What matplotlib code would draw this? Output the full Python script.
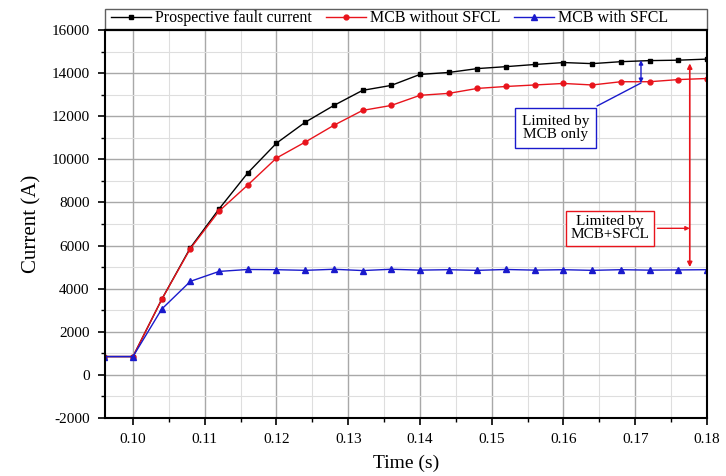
import matplotlib.pyplot as plt
from matplotlib.patches import Rectangle
from matplotlib.ticker import MultipleLocator, FormatStrFormatter

plt.rcParams['font.family'] = ['Liberation Serif', 'DejaVu Serif']
plt.rcParams['axes.unicode_minus'] = False

# time axis (s), one marker every 4 ms
t = [0.096, 0.100, 0.104, 0.108, 0.112, 0.116, 0.120, 0.124, 0.128, 0.132,
     0.136, 0.140, 0.144, 0.148, 0.152, 0.156, 0.160, 0.164, 0.168, 0.172,
     0.176, 0.180]

prospective = [850, 850, 3500, 5900, 7700, 9370, 10750, 11720, 12500, 13200,
               13430, 13940, 14030, 14210, 14300, 14400, 14490, 14440, 14530,
               14580, 14600, 14650]
mcb_only = [850, 850, 3500, 5860, 7600, 8810, 10060, 10800, 11580, 12270,
            12500, 12970, 13060, 13290, 13380, 13450, 13520, 13450, 13600,
            13600, 13700, 13750]
mcb_sfcl = [850, 850, 3050, 4340, 4800, 4890, 4880, 4850, 4900, 4840,
            4900, 4860, 4880, 4850, 4890, 4860, 4880, 4850, 4880, 4860,
            4870, 4880]

labels = ['Prospective fault current', 'MCB without SFCL', 'MCB with SFCL']
red = '#e8141c'
blue = '#1a1acc'

fig = plt.figure(figsize=(7.26, 4.76), dpi=100)
ax = fig.add_axes([105 / 726, 1 - 418 / 476, 602 / 726, 388 / 476])

ax.plot(t, prospective, color='black', lw=1, marker='s', ms=3.5, label=labels[0])
ax.plot(t, mcb_only, color=red, lw=1, marker='o', ms=3.5, label=labels[1])
ax.plot(t, mcb_sfcl, color=blue, lw=1, marker='^', ms=4, label=labels[2])

ax.set_xlim(0.0961, 0.180)
ax.set_ylim(-2000, 16000)
ax.xaxis.set_major_locator(MultipleLocator(0.01))
ax.xaxis.set_minor_locator(MultipleLocator(0.005))
ax.xaxis.set_major_formatter(FormatStrFormatter('%.2f'))
ax.yaxis.set_major_locator(MultipleLocator(2000))
ax.yaxis.set_minor_locator(MultipleLocator(1000))
ax.grid(which='major', color='#a8a8a8', lw=1)
ax.grid(which='minor', color='#dedede', lw=0.8)
ax.set_axisbelow(True)
ax.tick_params(which='major', direction='out', length=5, width=1.2,
               labelsize=11, pad=6)
ax.tick_params(which='minor', direction='out', length=3, width=1)
for s in ax.spines.values():
    s.set_linewidth(1.5)
ax.set_xlabel('Time (s)', fontsize=14, labelpad=6)
ax.set_ylabel('Current (A)', fontsize=15, labelpad=7)

# legend strip above the plot, frame spans the full axes width
ax.add_patch(Rectangle((0, 1.003), 1, 0.052, transform=ax.transAxes,
                       fill=False, ec='#606060', lw=1, clip_on=False))
ax.legend(loc='lower left', bbox_to_anchor=(0, 0.995), ncol=3, fontsize=11.5,
          frameon=False, borderaxespad=0.05, handlelength=2.5,
          handletextpad=0.25, columnspacing=0.9, borderpad=0.3)

# annotation: limited by MCB only
ax.annotate('', xy=(0.1708, 14600), xytext=(0.1708, 13540),
            arrowprops=dict(arrowstyle='<|-|>', color=blue, lw=1,
                            mutation_scale=6, shrinkA=0, shrinkB=0))
ax.annotate('Limited by\nMCB only', xy=(0.1708, 13540), xytext=(0.1589, 11470),
            ha='center', va='center', fontsize=11, linespacing=1.0,
            bbox=dict(boxstyle='square,pad=0.45', fc='white', ec=blue, lw=1),
            arrowprops=dict(arrowstyle='-', color=blue, lw=1, shrinkB=0))

# annotation: limited by MCB + SFCL
ax.annotate('', xy=(0.1776, 14450), xytext=(0.1776, 5000),
            arrowprops=dict(arrowstyle='<|-|>', color=red, lw=1.2,
                            mutation_scale=7, shrinkA=0, shrinkB=0))
ax.annotate('Limited by\nMCB+SFCL', xy=(0.1776, 6800), xytext=(0.1665, 6800),
            ha='center', va='center', fontsize=11, linespacing=1.0,
            bbox=dict(boxstyle='square,pad=0.3', fc='white', ec=red, lw=1),
            arrowprops=dict(arrowstyle='-|>', color=red, lw=1,
                            mutation_scale=6, shrinkB=0))

fig.savefig('out.png', dpi=100)
